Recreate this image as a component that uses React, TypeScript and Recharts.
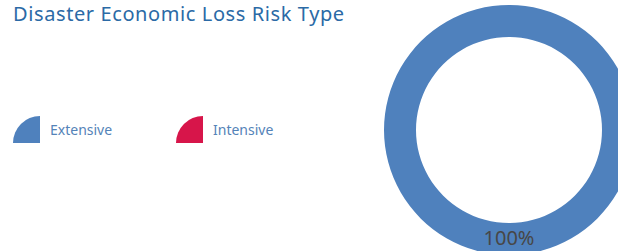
import React from "react";
import { PieChart, Pie, Cell, Legend } from "recharts";

const riskTypes = ["Extensive", "Intensive"];
const lossShare = [100, 0];
const typeColors = ["#4f81bd", "#d7154a"];

const data = riskTypes.map((name, i) => ({ name, value: lossShare[i] }));

const RADIAN = Math.PI / 180;

const renderLabel = (props: any) => {
  const { cx, cy, midAngle, innerRadius, outerRadius, percent } = props;
  if (!percent) return null;
  const r = (innerRadius + outerRadius) / 2 - 2;
  const x = cx + r * Math.cos(-midAngle * RADIAN);
  const y = cy + r * Math.sin(-midAngle * RADIAN);
  return (
    <text
      x={x}
      y={y}
      fill="#474747"
      fontSize={20}
      fontFamily="'Noto Sans', sans-serif"
      textAnchor="middle"
      dominantBaseline="central"
    >
      {`${Math.round(percent * 100)}%`}
    </text>
  );
};

// quarter-circle legend markers
const LegendContent = ({ payload }: any) => (
  <div style={{ display: "flex" }}>
    {(payload || []).map((entry: any) => (
      <div key={entry.value} style={{ display: "flex", alignItems: "center", width: 163 }}>
        <svg width={27} height={27}>
          <path d="M27 27 L0 27 A27 27 0 0 1 27 0 Z" fill={entry.color} />
        </svg>
        <span
          style={{
            marginLeft: 10,
            fontSize: 14,
            color: "#5483b8",
            fontFamily: "'Noto Sans', sans-serif",
          }}
        >
          {entry.value}
        </span>
      </div>
    ))}
  </div>
);

export default function App() {
  return (
    <div style={{ position: "absolute", left: 0, top: 0, width: 618, height: 251, background: "#fff", overflow: "hidden" }}>
      <div
        style={{
          position: "absolute",
          left: 13,
          top: 0,
          fontSize: 20,
          letterSpacing: 0.6,
          color: "#2b6aa6",
          fontFamily: "'Noto Sans', sans-serif",
          whiteSpace: "nowrap",
        }}
      >
        Disaster Economic Loss Risk Type
      </div>
      <PieChart width={618} height={251} margin={{ top: 0, right: 0, bottom: 0, left: 0 }}>
        <Legend
          content={<LegendContent />}
          payload={data.map((d, i) => ({ value: d.name, color: typeColors[i], type: "rect" }))}
          wrapperStyle={{ position: "absolute", left: 13, top: 116, width: 340 }}
        />
        <Pie
          data={data}
          dataKey="value"
          nameKey="name"
          cx={509}
          cy={130}
          innerRadius={93}
          outerRadius={125}
          startAngle={90}
          endAngle={-270}
          stroke="none"
          label={renderLabel}
          labelLine={false}
          isAnimationActive={false}
        >
          {data.map((d, i) => (
            <Cell key={d.name} fill={typeColors[i]} />
          ))}
        </Pie>
      </PieChart>
    </div>
  );
}
